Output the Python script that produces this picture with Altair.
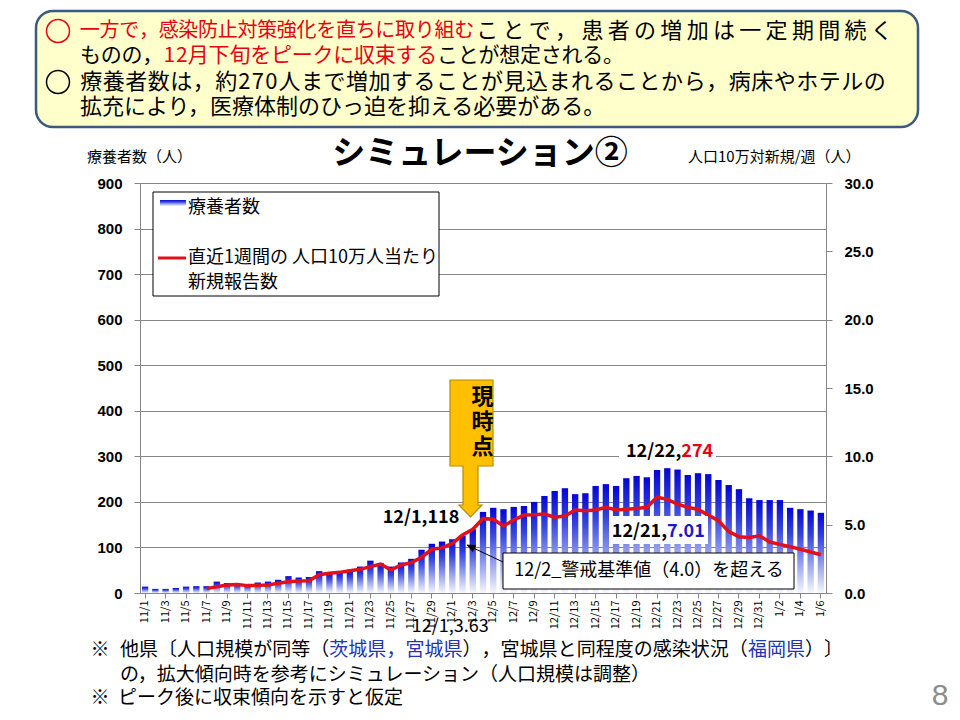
import math
import altair as alt
import pandas as pd

# ---------------- data ----------------
dates = ([f"11/{d}" for d in range(1, 31)]
         + [f"12/{d}" for d in range(1, 32)]
         + [f"1/{d}" for d in range(1, 7)])

patients = [14, 9, 9, 11, 14, 15, 15, 25, 22, 21,
            19, 23, 25, 29, 37, 34, 35, 48, 45, 48,
            51, 58, 71, 66, 58, 67, 75, 95, 108, 113,
            118, 126, 140, 178, 187, 184, 189, 191, 200, 213,
            224, 230, 217, 219, 235, 239, 235, 252, 257, 254,
            270, 274, 271, 259, 263, 261, 248, 237, 228, 208,
            204, 204, 204, 187, 184, 181, 176]

rate = [None, None, None, None, None, None, 0.32, 0.46, 0.59, 0.63,
        0.54, 0.56, 0.59, 0.71, 0.83, 0.88, 0.90, 1.34, 1.44, 1.51,
        1.63, 1.73, 1.93, 2.12, 1.68, 2.05, 2.22, 2.62, 3.20, 3.30,
        3.63, 4.24, 4.66, 5.44, 5.39, 4.90, 5.34, 5.70, 5.73, 5.78,
        5.54, 5.63, 6.07, 6.02, 6.07, 6.27, 6.07, 6.12, 6.19, 6.27,
        7.01, 6.85, 6.51, 6.27, 6.12, 5.70, 5.29, 4.49, 4.12, 4.07,
        4.19, 3.73, 3.56, 3.39, 3.20, 3.00, 2.80]

label_dates = dates[::2]
left_ticks = [0, 100, 200, 300, 400, 500, 600, 700, 800, 900]
right_ticks = [0, 5, 10, 15, 20, 25, 30]

title_text = "シミュレーション②"
left_title = "療養者数（人）"
right_title = "人口10万対新規/週（人）"
legend_bar = "療養者数"
legend_line = ["直近1週間の 人口10万人当たり", "新規報告数"]
note_box = "12/2_警戒基準値（4.0）を超える"
callout = ["現", "時", "点"]

# ---------------- styling ----------------
JP = "Noto Sans CJK JP"
LAT = "Liberation Sans"
RED = "#E60012"
BLACK = "#000000"
BLUE_TXT = "#2233B5"
LINE_RED = "#E3101C"
GRID = "#868686"

OX, OY = 140, 183      # page position of plot origin
W, H = 686, 410

df = pd.DataFrame({"date": dates, "patients": patients, "rate": rate})
one = pd.DataFrame({"k": [0]})

xscale = alt.Scale(domain=dates, paddingInner=0.38, paddingOuter=0.19)
xaxis = alt.Axis(values=label_dates, labelAngle=270, labelFont=JP, labelFontSize=11,
                 labelColor=BLACK, tickColor=GRID, domainColor=GRID, tickSize=5,
                 labelPadding=2, labelOverlap=False, title=None)

bar_grad = alt.Gradient(
    gradient="linear",
    stops=[alt.GradientStop(color="#0505D5", offset=0),
           alt.GradientStop(color="#3442DE", offset=0.3),
           alt.GradientStop(color="#A4AEEE", offset=0.7),
           alt.GradientStop(color="#F6F7FF", offset=1)],
    x1=0, x2=0, y1=0, y2=1)


def px(X):
    return X - OX


def py(Y):
    return Y - OY


def text(s, X, Y, size, color=BLACK, align="left", weight="normal", font=JP):
    return alt.Chart(one).mark_text(
        text=s, align=align, baseline="middle", fontSize=size, color=color,
        fontWeight=weight, font=font
    ).encode(x=alt.value(px(X)), y=alt.value(py(Y)))


def em(ch):
    if ord(ch) < 128:
        return 0.3 if ch == " " else (0.6 if ch.isdigit() else 0.5)
    return 1.0


def spread(segments, X0, X1, Y, size):
    """Lay out coloured segments character by character across X0..X1 (justified)."""
    total = sum(em(ch) for s, _ in segments for ch in s)
    pitch = (X1 - X0) / total
    out = []
    cur = 0.0
    for s, col in segments:
        for ch in s:
            w = em(ch)
            out.append(text(ch, X0 + (cur + w / 2) * pitch, Y, size, col, align="center"))
            cur += w
    return out


def rect(X1, Y1, X2, Y2, **kw):
    return alt.Chart(one).mark_rect(**kw).encode(
        x=alt.value(px(X1)), x2=alt.value(px(X2)),
        y=alt.value(py(Y1)), y2=alt.value(py(Y2)))


def shape(path, X, Y, **kw):
    return alt.Chart(one).mark_point(shape=path, size=4, filled=True, opacity=1, **kw).encode(
        x=alt.value(px(X)), y=alt.value(py(Y)))


layers = []

# ---- header box ----
layers.append(rect(36, 11, 918, 127, fill="#FFFFCC", stroke="#3A5A80", strokeWidth=2.5, cornerRadius=17))
for cy, col in [(31, RED), (82, BLACK)]:
    layers.append(alt.Chart(one).mark_point(shape="circle", size=23 * 23, filled=False, stroke=col,
                                            strokeWidth=1.5, opacity=1)
                  .encode(x=alt.value(px(58)), y=alt.value(py(cy))))
layers += spread([("一方で，感染防止対策強化を直ちに取り組む", RED)], 80, 474, 31, 20)
layers += spread([("ことで，患者の増加は一定期間続く", BLACK)], 474, 895, 31, 22)
layers += spread([("ものの，", BLACK), ("12月下旬をピークに収束する", RED),
                  ("ことが想定される。", BLACK)], 80, 624, 56, 21)
layers += spread([("療養者数は，約270人まで増加することが見込まれることから，病床やホテルの", BLACK)],
                 80, 886, 82, 22)
layers.append(text("拡充により，医療体制のひっ迫を抑える必要がある。", 80, 107, 22))

# ---- titles ----
layers.append(text(title_text, 480, 154, 33, align="center", weight="bold"))
layers.append(text(left_title, 87, 157, 15))
layers.append(text(right_title, 688, 157, 15))

# ---- bars ----
bars = alt.Chart(df).mark_bar(color=bar_grad).encode(
    x=alt.X("date:N", scale=xscale, axis=xaxis),
    y=alt.Y("patients:Q", scale=alt.Scale(domain=[0, 900], nice=False), title=None,
            axis=alt.Axis(values=left_ticks, orient="left", grid=True, gridColor=GRID, gridWidth=1,
                          domainColor=GRID, tickColor=GRID, tickSize=6, labelPadding=12,
                          labelFont=LAT, labelFontSize=15, labelFontWeight="bold",
                          labelColor=BLACK)),
)
layers.append(bars)

line = alt.Chart(df).mark_line(color=LINE_RED, strokeWidth=3.5).encode(
    x=alt.X("date:N", scale=xscale, axis=xaxis),
    y=alt.Y("rate:Q", scale=alt.Scale(domain=[0, 30], nice=False), title=None,
            axis=alt.Axis(values=right_ticks, orient="right", format=".1f", grid=False,
                          domainColor=GRID, tickColor=GRID, tickSize=6, labelPadding=12,
                          labelFont=LAT, labelFontSize=15, labelFontWeight="bold",
                          labelColor=BLACK)),
)
layers.append(line)

# ---- legend ----
layers.append(rect(153, 192, 439, 296, fill="#FFFFFF", stroke=BLACK, strokeWidth=1))
layers.append(rect(160, 200, 186, 206, fill=bar_grad))
layers.append(alt.Chart(one).mark_rule(color=LINE_RED, strokeWidth=3).encode(
    x=alt.value(px(158)), x2=alt.value(px(186)), y=alt.value(py(258))))
layers.append(text(legend_bar, 188, 208, 18))
layers.append(text(legend_line[0], 188, 258, 18))
layers.append(text(legend_line[1], 188, 283, 18))

# ---- 現時点 callout ----
callout_path = ("M0,0 L43,0 L43,86 L28,86 L28,125 L32,125 L20.5,137 "
                "L9,125 L13,125 L13,86 L0,86 Z")
layers.append(shape(callout_path, 450, 380, fill="#FFC000", stroke="#B88A00", strokeWidth=1.2))
for i, ch in enumerate(callout):
    layers.append(text(ch, 471.5, 397 + 25 * i, 22, weight="bold"))

# ---- annotation box with arrow ----
layers.append(rect(503, 553, 794, 589, fill="#FFFFFF", stroke=BLACK, strokeWidth=1))
layers.append(text(note_box, 649, 571, 18, align="center"))
x_from, y_from, x_tip, y_tip = 503, 562, 467, 545
layers.append(alt.Chart(one).mark_rule(color=BLACK, strokeWidth=1).encode(
    x=alt.value(px(x_from)), y=alt.value(py(y_from)),
    x2=alt.value(px(x_tip)), y2=alt.value(py(y_tip))))
ddx, ddy = x_from - x_tip, y_from - y_tip
L = math.hypot(ddx, ddy)
ux, uy = ddx / L, ddy / L
hl, hw = 8.0, 3.5
b1 = (ux * hl - uy * hw, uy * hl + ux * hw)
b2 = (ux * hl + uy * hw, uy * hl - ux * hw)
arrow_path = f"M0,0 L{b1[0]:.2f},{b1[1]:.2f} L{b2[0]:.2f},{b2[1]:.2f} Z"
layers.append(shape(arrow_path, x_tip, y_tip, fill=BLACK, stroke=BLACK, strokeWidth=0.5))

# ---- data labels ----
i_1201 = dates.index("12/1")
i_1222 = dates.index("12/22")
i_1221 = dates.index("12/21")

layers.append(rect(619, 441, 716, 464, fill="#FFFFFF"))
layers.append(rect(610, 516, 708, 544, fill="#FFFFFF"))


def data_label(date, value, scale_dom, s, color, align, ox, oy, weight="bold"):
    d = pd.DataFrame({"date": [date], "v": [value]})
    return alt.Chart(d).mark_text(
        text=s, align=align, baseline="middle", fontSize=18, fontWeight=weight,
        font=JP, color=color, dx=ox, dy=oy
    ).encode(x=alt.X("date:N", scale=xscale, axis=xaxis),
             y=alt.Y("v:Q", scale=alt.Scale(domain=scale_dom, nice=False), axis=None))


layers.append(data_label("12/1", patients[i_1201], [0, 900], f"12/1,{patients[i_1201]}",
                         BLACK, "right", 7, -21))
layers.append(data_label("12/22", patients[i_1222], [0, 900], "12/22,", BLACK, "right", 14, -16))
layers.append(data_label("12/22", patients[i_1222], [0, 900], f"{patients[i_1222]}", RED, "left", 14, -16))
layers.append(data_label("12/21", rate[i_1221], [0, 30], "12/21,", BLACK, "right", 10, 35))
layers.append(data_label("12/21", rate[i_1221], [0, 30], f"{rate[i_1221]:.2f}", "#1A1AC8", "left", 10, 35))

stray = pd.DataFrame({"date": ["12/1"]})
layers.append(alt.Chart(stray).mark_text(
    text=f"12/1,{rate[i_1201]:.2f}", align="center", baseline="middle", fontSize=18, font=JP,
    color=BLACK, dx=-2).encode(x=alt.X("date:N", scale=xscale, axis=xaxis),
                                y=alt.value(py(627))))

# ---- footnotes ----
FS = 19
layers.append(text("※", 100, 650, FS, align="center"))
layers += spread([("他県〔人口規模が同等（", BLACK), ("茨城県，宮城県", BLUE_TXT),
                  ("），宮城県と同程度の感染状況（", BLACK), ("福岡県", BLUE_TXT),
                  ("）〕", BLACK)], 120, 843, 650, FS)
layers.append(text("の，拡大傾向時を参考にシミュレーション（人口規模は調整）", 120, 675, FS))
layers.append(text("※", 100, 698, FS, align="center"))
layers.append(text("ピーク後に収束傾向を示すと仮定", 118, 698, FS))

layers.append(text("8", 940, 696, 30, color="#8C8C8C", align="center", font=LAT))

chart = alt.layer(*layers).resolve_scale(y="independent").properties(
    width=W, height=H,
    autosize=alt.AutoSizeParams(type="none"),
    padding={"left": 132, "top": 175, "right": 126, "bottom": 117},
    background="white",
).configure_view(stroke=None)

chart.save("out.html", embed_options={"renderer": "svg", "actions": False})
